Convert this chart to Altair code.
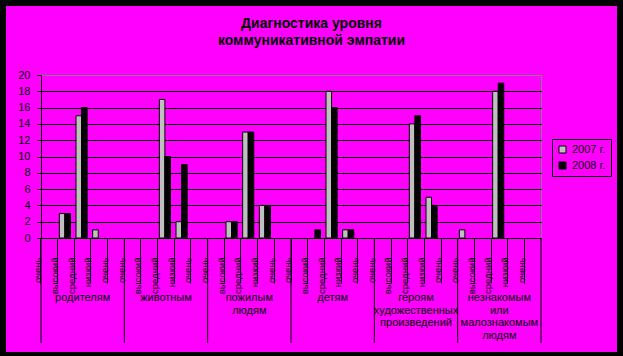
import json
import altair as alt
import pandas as pd

# ---- data ----
title_lines = ["Диагностика уровня", "коммуникативной эмпатии"]
groups = ["родителям", "животным", "пожилым\nлюдям", "детям",
          "героям\nхудожественных\nпроизведений",
          "незнакомым\nили\nмалознакомым\nлюдям"]
levels = ["очень", "высокий", "средний", "низкий", "очень"]
years = ["2007 г.", "2008 г."]
values_2007 = [0, 3, 15, 1, 0,  0, 0, 17, 2, 0,  0, 2, 13, 4, 0,
               0, 0, 18, 1, 0,  0, 0, 14, 5, 0,  1, 0, 18, 0, 0]
values_2008 = [0, 3, 16, 0, 0,  0, 0, 10, 9, 0,  0, 2, 13, 4, 0,
               0, 1, 16, 1, 0,  0, 0, 15, 4, 0,  0, 0, 19, 0, 0]
y_ticks = list(range(0, 21, 2))
colors = ["#C0C0C0", "#000000"]

# ---- derived tables ----
n_lv = len(levels)
cat_ids = list(range(len(groups) * n_lv))
rows = []
for i in cat_ids:
    for year, vals in zip(years, [values_2007, values_2008]):
        if vals[i] > 0:
            rows.append({"idx": i, "year": year, "value": vals[i]})
bars_df = pd.DataFrame(rows)
group_df = pd.DataFrame({"idx": [g * n_lv + n_lv // 2 for g in range(len(groups))],
                         "label": groups})
sep_df = pd.DataFrame({"idx": [g * n_lv for g in range(len(groups))]})
end_df = pd.DataFrame({"idx": [cat_ids[-1]]})
title_df = pd.DataFrame({"t": ["\n".join(title_lines)]})
one_df = pd.DataFrame({"a": [0]})

FONT = "Liberation Sans"
W, H = 500, 163
band_w = W / len(cat_ids)

xscale = alt.Scale(domain=cat_ids, paddingInner=0, paddingOuter=0)

x_axis = alt.Axis(
    title=None, bandPosition=0, labelAngle=270, labelAlign="right",
    labelBaseline="alphabetic", labelPadding=-26, labelOffset=-(band_w / 2) + 0.3,
    tickSize=45, tickColor="black", tickWidth=1, domainColor="black", domainWidth=1,
    labelColor="black", labelFontSize=9.5, labelFont=FONT,
    labelExpr=f"{json.dumps(levels, ensure_ascii=False)}[datum.value % {n_lv}]",
    labelOverlap=False, grid=False,
)
y_axis = alt.Axis(
    title=None, values=y_ticks, tickSize=4, tickColor="black", tickWidth=1,
    domainColor="black", domainWidth=1, labelFontSize=11, labelFont=FONT,
    labelColor="black", labelPadding=7, grid=True,
    gridColor={"condition": {"test": f"datum.value == {max(y_ticks)}", "value": "#808080"},
               "value": "black"},
    gridWidth=1, gridOpacity=1,
)

border = alt.Chart(one_df).mark_rect(fill="transparent", stroke="black", strokeWidth=6).encode(
    x=alt.value(-38), x2=alt.value(579), y=alt.value(-72), y2=alt.value(280)
)

title = alt.Chart(title_df).mark_text(
    lineBreak="\n", baseline="alphabetic", align="center", fontSize=14,
    fontWeight="bold", font=FONT, color="black", lineHeight=17,
).encode(x=alt.value(270.5), y=alt.value(-47), text="t:N")

bars = alt.Chart(bars_df).mark_bar(stroke="black", strokeWidth=1).encode(
    x=alt.X("idx:O", scale=xscale, axis=x_axis),
    xOffset=alt.XOffset("year:N", scale=alt.Scale(domain=years, paddingInner=0,
                                                  paddingOuter=0.5, align=0.3)),
    y=alt.Y("value:Q", scale=alt.Scale(domain=[0, 20], nice=False), axis=y_axis),
    color=alt.Color("year:N", scale=alt.Scale(domain=years, range=colors),
                    legend=alt.Legend(title=None, orient="none", legendX=511, legendY=64,
                                      symbolType="square", symbolSize=49,
                                      symbolStrokeColor="black", symbolStrokeWidth=1,
                                      labelFontSize=11, labelFont=FONT, labelColor="black",
                                      strokeColor="black", padding=5, rowPadding=4,
                                      labelOffset=4)),
)

seps = alt.Chart(sep_df).mark_rule(color="black", strokeWidth=1).encode(
    x=alt.X("idx:O", scale=xscale, axis=x_axis, bandPosition=0),
    y=alt.value(H), y2=alt.value(268),
)
end_sep = alt.Chart(end_df).mark_rule(color="black", strokeWidth=1).encode(
    x=alt.X("idx:O", scale=xscale, axis=x_axis, bandPosition=1),
    y=alt.value(H), y2=alt.value(268),
)
glabels = alt.Chart(group_df).mark_text(
    lineBreak="\n", baseline="top", align="center", fontSize=11, font=FONT,
    color="black", lineHeight=12.5,
).encode(
    x=alt.X("idx:O", scale=xscale, axis=x_axis),
    y=alt.value(217),
    text="label:N",
)

chart = alt.layer(border, title, bars, seps, end_sep, glabels).properties(
    width=W, height=H,
    padding={"left": 41, "top": 75, "right": 82, "bottom": 118},
    autosize=alt.AutoSizeParams(type="none"),
    background="#FF00FF",
).configure_view(stroke="#808080", strokeWidth=1)

chart.save("out.html", embed_options={"renderer": "svg", "actions": False})
